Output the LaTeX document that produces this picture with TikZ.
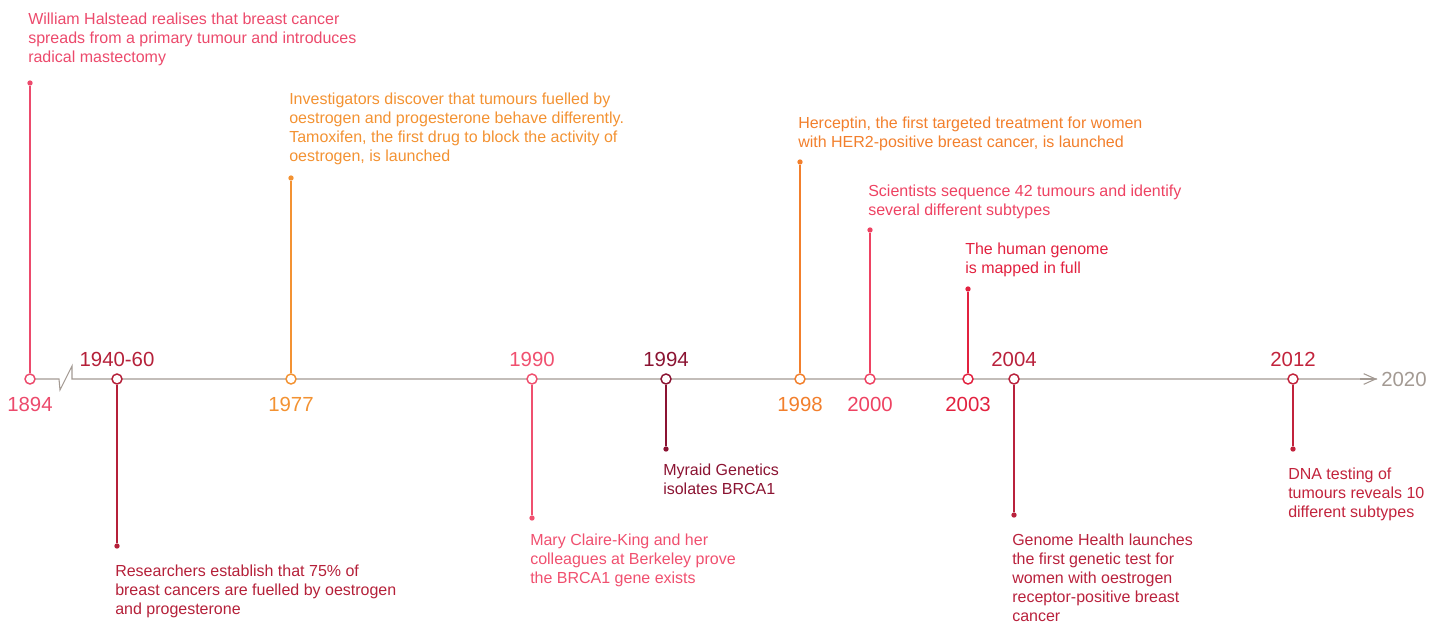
\documentclass[tikz,border=0pt]{standalone}
\usepackage{fontspec}
\setmainfont{Liberation Sans}
\usetikzlibrary{arrows.meta}
\definecolor{axisgray}{HTML}{A39A93}
\definecolor{cpink}{HTML}{EC4A6C}
\definecolor{cdark}{HTML}{B52039}
\definecolor{corange}{HTML}{F39232}
\definecolor{cpink2}{HTML}{F0506F}
\definecolor{cmaroon}{HTML}{8B1332}
\definecolor{corange2}{HTML}{F27F2C}
\definecolor{cpink3}{HTML}{EE4262}
\definecolor{cred}{HTML}{E2213F}
\definecolor{ccrimson}{HTML}{B9213C}
\definecolor{ccrimson2}{HTML}{C2233C}
\tikzset{
  yr/.style={circle, draw=#1, fill=white, line width=1.1pt, minimum size=7.5pt, inner sep=0pt},
  tip/.style={circle, fill=#1, minimum size=4pt, inner sep=0pt},
  stem/.style={draw=#1, line width=0.8pt},
  yl/.style={text=#1, font=\fontsize{15.3}{18}\selectfont, inner sep=0pt},
  desc/.style={text=#1, font=\fontsize{12}{14.25}\selectfont, align=left, inner sep=0pt, anchor=base west},
}
\begin{document}
\begin{tikzpicture}[x=0.75pt,y=-0.75pt]
\useasboundingbox (0,0) rectangle (1445,622);
% axis
\coordinate (a0) at (35,379);
\coordinate (z1) at (59,379);
\coordinate (z2) at (60,390);
\coordinate (z3) at (72,366);
\coordinate (z4) at (72,379);
\coordinate (aend) at (1377,379);
\draw[axisgray, line width=0.8pt] (a0) -- (z1) -- (z2) -- (z3) -- (z4) -- (aend);
\draw[axisgray, line width=0.8pt, -{Straight Barb[length=9pt,width=8pt]}] (1360,379) -- (aend);
\node[yl=axisgray, anchor=base west] (y2020) at (1381,386) {2020};

% 1894
\node[yr=cpink] (c1894) at (30,379) {};
\node[tip=cpink] (d1894) at (30,83) {};
\draw[stem=cpink] (c1894) -- (d1894);
\node[yl=cpink, anchor=base] (l1894) at (30,411) {1894};
\node[desc=cpink] (t1894) at (28,62) {William Halstead realises that breast cancer\\spreads from a primary tumour and introduces\\radical mastectomy};

% 1940-60
\node[yr=cdark] (c1940) at (117,379) {};
\node[tip=cdark] (d1940) at (117,546) {};
\draw[stem=cdark] (c1940) -- (d1940);
\node[yl=cdark, anchor=base] (l1940) at (117,366) {1940-60};
\node[desc=cdark] (t1940) at (115,614) {Researchers establish that 75\% of\\breast cancers are fuelled by oestrogen\\and progesterone};

% 1977
\node[yr=corange] (c1977) at (291,379) {};
\node[tip=corange] (d1977) at (291,178) {};
\draw[stem=corange] (c1977) -- (d1977);
\node[yl=corange, anchor=base] (l1977) at (291,411) {1977};
\node[desc=corange] (t1977) at (289,161) {Investigators discover that tumours fuelled by\\oestrogen and progesterone behave differently.\\Tamoxifen, the first drug to block the activity of\\oestrogen, is launched};

% 1990
\node[yr=cpink2] (c1990) at (532,379) {};
\node[tip=cpink2] (d1990) at (532,518) {};
\draw[stem=cpink2] (c1990) -- (d1990);
\node[yl=cpink2, anchor=base] (l1990) at (532,366) {1990};
\node[desc=cpink2] (t1990) at (530,583) {Mary Claire-King and her\\colleagues at Berkeley prove\\the BRCA1 gene exists};

% 1994
\node[yr=cmaroon] (c1994) at (666,379) {};
\node[tip=cmaroon] (d1994) at (666,449) {};
\draw[stem=cmaroon] (c1994) -- (d1994);
\node[yl=cmaroon, anchor=base] (l1994) at (666,366) {1994};
\node[desc=cmaroon] (t1994) at (663,494) {Myraid Genetics\\isolates BRCA1};

% 1998
\node[yr=corange2] (c1998) at (800,379) {};
\node[tip=corange2] (d1998) at (800,162) {};
\draw[stem=corange2] (c1998) -- (d1998);
\node[yl=corange2, anchor=base] (l1998) at (800,411) {1998};
\node[desc=corange2] (t1998) at (798,147) {Herceptin, the first targeted treatment for women\\with HER2-positive breast cancer, is launched};

% 2000
\node[yr=cpink3] (c2000) at (870,379) {};
\node[tip=cpink3] (d2000) at (870,230) {};
\draw[stem=cpink3] (c2000) -- (d2000);
\node[yl=cpink3, anchor=base] (l2000) at (870,411) {2000};
\node[desc=cpink3] (t2000) at (868,215) {Scientists sequence 42 tumours and identify\\several different subtypes};

% 2003
\node[yr=cred] (c2003) at (968,379) {};
\node[tip=cred] (d2003) at (968,289) {};
\draw[stem=cred] (c2003) -- (d2003);
\node[yl=cred, anchor=base] (l2003) at (968,411) {2003};
\node[desc=cred] (t2003) at (965,273) {The human genome\\is mapped in full};

% 2004
\node[yr=ccrimson] (c2004) at (1014,379) {};
\node[tip=ccrimson] (d2004) at (1014,515) {};
\draw[stem=ccrimson] (c2004) -- (d2004);
\node[yl=ccrimson, anchor=base] (l2004) at (1014,366) {2004};
\node[desc=ccrimson] (t2004) at (1012,621) {Genome Health launches\\the first genetic test for\\women with oestrogen\\receptor-positive breast\\cancer};

% 2012
\node[yr=ccrimson2] (c2012) at (1293,379) {};
\node[tip=ccrimson2] (d2012) at (1293,449) {};
\draw[stem=ccrimson2] (c2012) -- (d2012);
\node[yl=ccrimson2, anchor=base] (l2012) at (1293,366) {2012};
\node[desc=ccrimson2] (t2012) at (1288,517) {DNA testing of\\tumours reveals 10\\different subtypes};
\end{tikzpicture}
\end{document}
